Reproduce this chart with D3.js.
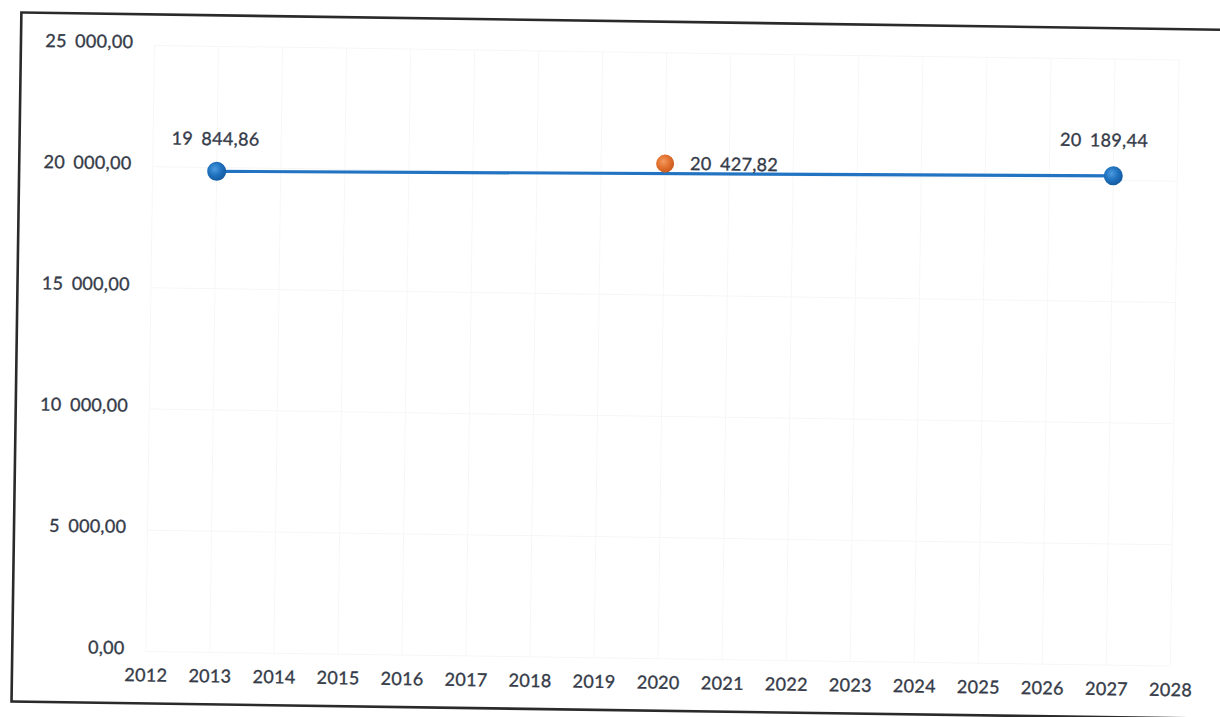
<!DOCTYPE html>
<html>
<head>
<meta charset="utf-8">
<script src="https://cdn.jsdelivr.net/npm/d3@7"></script>
<style>
  html, body { margin: 0; padding: 0; background: #ffffff; }
  svg { display: block; }
  text { font-family: Lato, "Open Sans", "Liberation Sans", sans-serif; }
</style>
</head>
<body>
<svg id="chart" width="1220" height="717"></svg>
<script>
// ---- data ----
const yearTicks  = [2012, 2013, 2014, 2015, 2016, 2017, 2018, 2019, 2020,
                    2021, 2022, 2023, 2024, 2025, 2026, 2027, 2028];
const valueTicks = [0, 5000, 10000, 15000, 20000, 25000];

// main series (blue line)
const lineYears  = [2013, 2027];
const lineValues = [19844.86, 20189.44];

// single point (orange)
const pointYears  = [2020];
const pointValues = [20427.82];

// ---- number format: "19 844,86" ----
const locale = d3.formatLocale({ decimal: ",", thousands: " ", grouping: [3], currency: ["", ""] });
const fmt = locale.format(",.2f");

// ---- layout ----
const plot = { left: 150, right: 1174.7, top: 52, bottom: 658 };
const textColor = "#353b48";

const svg = d3.select("#chart");

// the whole sheet sits slightly tilted on the page
const g = svg.append("g").attr("transform", "rotate(0.82, 610, 358)");

const x = d3.scaleLinear().domain([2012, 2028]).range([plot.left, plot.right]);
const y = d3.scaleLinear().domain([0, 25000]).range([plot.bottom, plot.top]);

// gradients for the glossy markers
const defs = svg.append("defs");
function ball(id, light, mid, dark) {
  const rg = defs.append("radialGradient").attr("id", id)
    .attr("cx", "40%").attr("cy", "38%").attr("r", "65%");
  rg.append("stop").attr("offset", "0%").attr("stop-color", light);
  rg.append("stop").attr("offset", "55%").attr("stop-color", mid);
  rg.append("stop").attr("offset", "100%").attr("stop-color", dark);
}
ball("gBlue", "#4a9be0", "#1f70bd", "#135a9e");
ball("gOrange", "#f39a5e", "#e2702e", "#c85a1e");

function styleText(sel) {
  sel.attr("font-size", 18)
    .attr("fill", textColor)
    .attr("stroke", textColor)
    .attr("stroke-width", 0.35)
    .attr("font-family", "Lato, 'Open Sans', sans-serif")
    .style("letter-spacing", "0.3px")
    .style("word-spacing", "3.5px");
}

// outer frame
g.append("rect")
  .attr("x", 16.5).attr("y", 21)
  .attr("width", 1230 - 16.5).attr("height", 710 - 21)
  .attr("fill", "none")
  .attr("stroke", "#2a2a2a")
  .attr("stroke-width", 2.6);

// faint gridlines
g.append("g").selectAll("line").data(valueTicks).join("line")
  .attr("x1", plot.left).attr("x2", plot.right)
  .attr("y1", d => y(d)).attr("y2", d => y(d))
  .attr("stroke", "#f5f6f7").attr("stroke-width", 1);
g.append("g").selectAll("line").data(yearTicks).join("line")
  .attr("x1", d => x(d)).attr("x2", d => x(d))
  .attr("y1", y(25000)).attr("y2", y(0))
  .attr("stroke", "#f6f7f8").attr("stroke-width", 1);

// y axis (labels only)
const yAxis = d3.axisLeft(y).tickValues(valueTicks).tickFormat(fmt).tickSize(0).tickPadding(0);
const yg = g.append("g").attr("transform", `translate(${plot.left - 21.2},0)`).call(yAxis);
yg.select(".domain").remove();
yg.selectAll("text").call(styleText).attr("dy", "2.5px");

// x axis (labels only)
const xAxis = d3.axisBottom(x).tickValues(yearTicks).tickFormat(d3.format("d")).tickSize(0).tickPadding(0);
const xg = g.append("g").attr("transform", `translate(0,${plot.bottom})`).call(xAxis);
xg.select(".domain").remove();
xg.selectAll("text").call(styleText).attr("y", 30).attr("dy", 0);

// blue line
const lineData = lineYears.map((yr, i) => ({ yr, v: lineValues[i] }));
g.append("path")
  .datum(lineData)
  .attr("fill", "none")
  .attr("stroke", "#2274c2")
  .attr("stroke-width", 3.2)
  .attr("d", d3.line().x(d => x(d.yr)).y(d => y(d.v)));

g.append("g").selectAll("circle").data(lineData).join("circle")
  .attr("cx", d => x(d.yr)).attr("cy", d => y(d.v))
  .attr("r", 9.5)
  .attr("fill", "url(#gBlue)");

// labels above the blue markers
const lineLabelShift = [{ dx: -1.6, dy: -26.2 }, { dx: -9.8, dy: -29.2 }];
g.append("g").selectAll("text").data(lineData).join("text")
  .attr("x", (d, i) => x(d.yr) + lineLabelShift[i].dx)
  .attr("y", (d, i) => y(d.v) + lineLabelShift[i].dy)
  .attr("text-anchor", "middle")
  .call(styleText)
  .text(d => fmt(d.v));

// orange point
const pointData = pointYears.map((yr, i) => ({ yr, v: pointValues[i] }));
g.append("g").selectAll("circle").data(pointData).join("circle")
  .attr("cx", d => x(d.yr)).attr("cy", d => y(d.v))
  .attr("r", 9)
  .attr("fill", "url(#gOrange)");

g.append("g").selectAll("text").data(pointData).join("text")
  .attr("x", d => x(d.yr) + 25)
  .attr("y", d => y(d.v) + 6)
  .attr("text-anchor", "start")
  .call(styleText)
  .text(d => fmt(d.v));
</script>
</body>
</html>
